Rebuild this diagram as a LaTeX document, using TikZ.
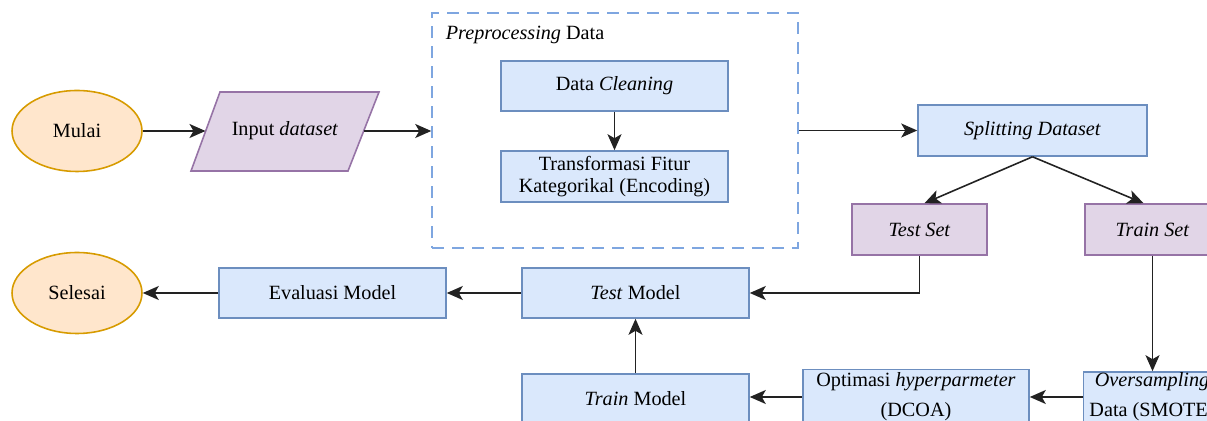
\documentclass[tikz,border=0pt]{standalone}
\usepackage{fontspec}
\setmainfont{Liberation Serif}
\usetikzlibrary{arrows.meta,shapes.geometric}
\definecolor{bluefill}{HTML}{DAE8FC}
\definecolor{bluedraw}{HTML}{6C8EBF}
\definecolor{purplefill}{HTML}{E1D5E7}
\definecolor{purpledraw}{HTML}{9673A6}
\definecolor{orangefill}{HTML}{FFE6CC}
\definecolor{orangedraw}{HTML}{D79B00}
\definecolor{groupdraw}{HTML}{7EA6E0}
\definecolor{linegray}{HTML}{222222}
\tikzset{
  base/.style={font=\fontsize{11.5}{14}\selectfont, text=black, inner sep=2pt, align=center},
  bluebox/.style={base, rectangle, draw=bluedraw, fill=bluefill, line width=0.9pt},
  purplebox/.style={base, rectangle, draw=purpledraw, fill=purplefill, line width=0.9pt},
  terminal/.style={base, ellipse, draw=orangedraw, fill=orangefill, line width=0.9pt,
    minimum width=2.6cm, minimum height=1.62cm},
  ioshape/.style={draw=purpledraw, fill=purplefill, line width=0.9pt},
  groupbox/.style={rectangle, draw=groupdraw, line width=0.9pt,
    dash pattern=on 0.24cm off 0.16cm, minimum width=7.32cm, minimum height=4.7cm},
  arr/.style={draw=linegray, line width=0.9pt, -{Stealth[length=0.32cm, width=0.28cm, inset=0.08cm]}},
  wide/.style={minimum width=4.54cm, minimum height=1.0cm},
  narrow/.style={minimum width=2.7cm, minimum height=1.02cm}
}
\begin{document}
\begin{tikzpicture}[x=0.02cm, y=-0.02cm]
\useasboundingbox (0,0) rectangle (1207,421);
\clip (0,0) rectangle (1207,421);

% start
\node[terminal] (mulai) at (77,131) {Mulai};

% input parallelogram, slanted sides meet the middle line at inL / inR
\draw[ioshape] (191,171) -- (348,171) -- (379,92) -- (220,92) -- cycle;
\coordinate (inL) at (205.5,131);
\coordinate (inR) at (363.5,131);
\node[base] (input) at (285,131) {Input \textit{dataset}};

% preprocessing group
\node[groupbox] (prep) at (615,130.5) {};
\node[base, anchor=west] (preplabel) at (442,35) {\textit{Preprocessing} Data};
\node[bluebox, wide] (clean) at (614.5,86) {Data \textit{Cleaning}};
\node[bluebox, wide, minimum height=1.02cm] (trans) at (614.5,176.5) {Transformasi Fitur\\[-1pt]Kategorikal (Encoding)};

% splitting
\node[bluebox, minimum width=4.58cm, minimum height=1.02cm] (split) at (1032.5,130.5) {\textit{Splitting Dataset}};
\node[purplebox, narrow] (testset) at (919.5,229.5) {\textit{Test Set}};
\node[purplebox, narrow] (trainset) at (1152.5,229.5) {\textit{Train Set}};

% modelling row
\node[bluebox, wide] (testmodel) at (635.5,293) {\textit{Test} Model};
\node[bluebox, wide] (evaluasi) at (332.5,293) {Evaluasi Model};
\node[terminal] (selesai) at (77,293) {Selesai};

% bottom row
\node[bluebox, wide] (trainmodel) at (635.5,399) {\textit{Train} Model};
\node[bluebox, minimum width=4.52cm, minimum height=1.0cm] (optim) at (916,397) {Optimasi \textit{hyperparmeter}\\[3pt](DCOA)};
\node[bluebox, minimum width=2.74cm, minimum height=1.0cm, inner sep=0pt] (over) at (1152,397) {\textit{Oversampling}\\[3pt]Data (SMOTE)};

% connectors
\draw[arr] (mulai.east) -- (inL);
\draw[arr] (inR) -- (inR -| prep.west);
\draw[arr] (clean.south) -- (trans.north);
\draw[arr] (prep.east |- split.west) -- (split.west);
\draw[arr] (split.south) -- ([xshift=0.1cm]testset.north);
\draw[arr] (split.south) -- ([xshift=-0.18cm]trainset.north);
\draw[arr] (testset.south) |- (testmodel.east);
\draw[arr] (trainset.south) -- (trainset.south |- over.north);
\draw[arr] (over.west) -- (optim.east);
\draw[arr] (optim.west) -- (optim.west -| trainmodel.east);
\draw[arr] (trainmodel.north) -- (testmodel.south);
\draw[arr] (testmodel.west) -- (evaluasi.east);
\draw[arr] (evaluasi.west) -- (selesai.east);
\end{tikzpicture}
\end{document}
